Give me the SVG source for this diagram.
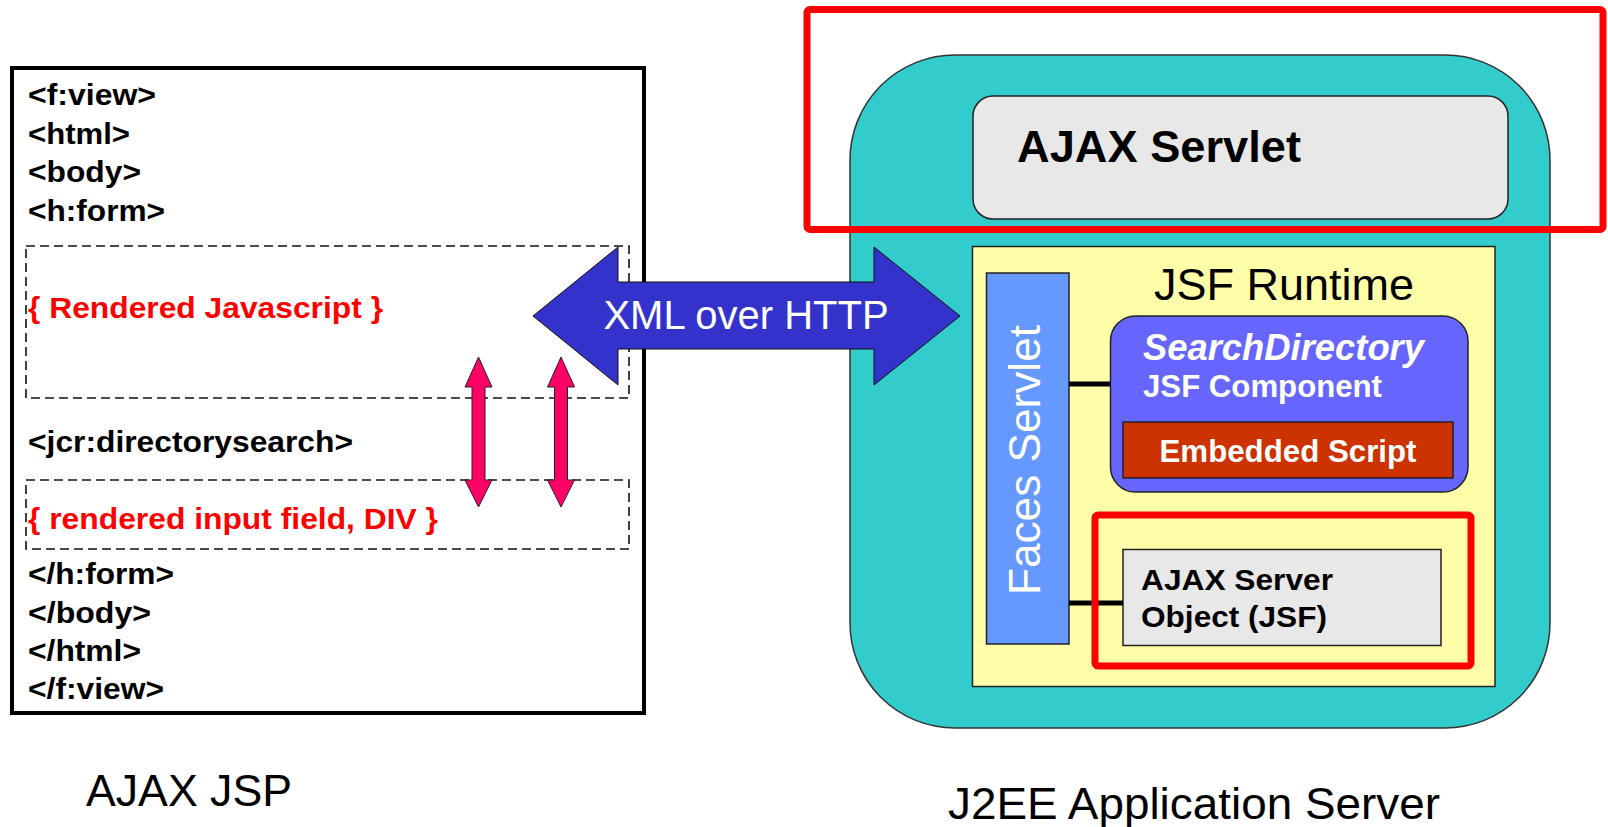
<svg xmlns="http://www.w3.org/2000/svg" width="1608" height="827" viewBox="0 0 1608 827">
  <style>
    .code { font-family: "Liberation Sans", Arial, sans-serif; font-weight: bold; font-size: 29px; fill: #000; }
    .render { font-family: "Liberation Sans", Arial, sans-serif; font-weight: bold; font-size: 29px; fill: #FF0000; }
    .label { font-family: "Liberation Sans", Arial, sans-serif; font-size: 44px; fill: #000; }
    .wlabel { font-family: "Liberation Sans", Arial, sans-serif; fill: #FFF; }
    .blabel { font-family: "Liberation Sans", Arial, sans-serif; font-weight: bold; fill: #000; }
    .dash { fill: none; stroke: #111; stroke-width: 1.6; stroke-dasharray: 9 5; }
    .edge { stroke: #222; stroke-width: 1.5; }
    .mark { fill: none; stroke: #FF0000; stroke-width: 7; }
    .pink { fill: #FF0066; stroke: #222; stroke-width: 1; }
    .link { stroke: #000; stroke-width: 5; }
  </style>

  <rect width="1608" height="827" fill="#FFFFFF"/>

  <!-- JSP page source -->
  <g id="ajax-jsp">
    <rect x="12" y="68" width="632" height="645" fill="#FFFFFF" stroke="#000" stroke-width="4"/>
    <text class="code" x="28" y="105" textLength="128" lengthAdjust="spacingAndGlyphs">&lt;f:view&gt;</text>
    <text class="code" x="28" y="143.5" textLength="102" lengthAdjust="spacingAndGlyphs">&lt;html&gt;</text>
    <text class="code" x="28" y="182" textLength="113" lengthAdjust="spacingAndGlyphs">&lt;body&gt;</text>
    <text class="code" x="28" y="220.5" textLength="137" lengthAdjust="spacingAndGlyphs">&lt;h:form&gt;</text>
    <rect class="dash" x="26" y="246" width="603" height="152"/>
    <text class="render" x="28" y="318" textLength="355" lengthAdjust="spacingAndGlyphs">{ Rendered Javascript }</text>
    <text class="code" x="28" y="452" textLength="325" lengthAdjust="spacingAndGlyphs">&lt;jcr:directorysearch&gt;</text>
    <rect class="dash" x="26" y="480" width="603" height="69"/>
    <text class="render" x="28" y="529" textLength="410" lengthAdjust="spacingAndGlyphs">{ rendered input field, DIV }</text>
    <text class="code" x="28" y="584" textLength="146" lengthAdjust="spacingAndGlyphs">&lt;/h:form&gt;</text>
    <text class="code" x="28" y="622.5" textLength="123" lengthAdjust="spacingAndGlyphs">&lt;/body&gt;</text>
    <text class="code" x="28" y="661" textLength="113" lengthAdjust="spacingAndGlyphs">&lt;/html&gt;</text>
    <text class="code" x="28" y="699" textLength="136" lengthAdjust="spacingAndGlyphs">&lt;/f:view&gt;</text>
  </g>
  <text id="label-jsp" class="label" x="86" y="806" textLength="206" lengthAdjust="spacingAndGlyphs">AJAX JSP</text>

  <!-- Application server -->
  <g id="app-server">
    <rect x="850" y="55" width="700" height="673" rx="105" ry="105" fill="#33CCCC" stroke="#333" stroke-width="1.5"/>
  </g>
  <text id="label-server" class="label" x="948" y="819" textLength="492" lengthAdjust="spacingAndGlyphs">J2EE Application Server</text>

  <g id="ajax-servlet">
    <rect x="973" y="96" width="535" height="123" rx="20" ry="20" fill="#E8E8E8" class="edge"/>
    <text class="blabel" x="1017" y="162" font-size="44" textLength="284" lengthAdjust="spacingAndGlyphs">AJAX Servlet</text>
  </g>

  <g id="jsf-runtime">
    <rect x="972.5" y="246.5" width="522.5" height="440" fill="#FFFFAA" class="edge"/>
    <text x="1154" y="300" font-family="Liberation Sans, Arial, sans-serif" font-size="45" fill="#000">JSF Runtime</text>
  </g>

  <g id="faces-servlet">
    <rect x="986.5" y="273" width="82.5" height="371" fill="#6699FF" class="edge"/>
    <text class="wlabel" font-size="44" transform="translate(1040 595) rotate(-90)" x="0" y="0" textLength="270" lengthAdjust="spacingAndGlyphs">Faces Servlet</text>
  </g>

  <g id="search-directory">
    <rect x="1110.5" y="316" width="357.5" height="176" rx="25" ry="25" fill="#6666FF" class="edge"/>
    <text class="wlabel" x="1143" y="360" font-size="37" font-style="italic" font-weight="bold" textLength="281" lengthAdjust="spacingAndGlyphs">SearchDirectory</text>
    <text class="wlabel" x="1143" y="397" font-size="31" font-weight="bold" textLength="239" lengthAdjust="spacingAndGlyphs">JSF Component</text>
  </g>

  <g id="embedded-script">
    <rect x="1123" y="422" width="330" height="56" fill="#CC3300" class="edge"/>
    <text class="wlabel" x="1288" y="462" font-size="31" font-weight="bold" text-anchor="middle" textLength="257" lengthAdjust="spacingAndGlyphs">Embedded Script</text>
  </g>

  <g id="ajax-server-object">
    <rect x="1123" y="549.5" width="318" height="96" fill="#E8E8E8" class="edge"/>
    <text class="blabel" x="1141" y="590" font-size="30" textLength="192" lengthAdjust="spacingAndGlyphs">AJAX Server</text>
    <text class="blabel" x="1141" y="627" font-size="30" textLength="186" lengthAdjust="spacingAndGlyphs">Object (JSF)</text>
  </g>

  <!-- Connectors -->
  <g id="connectors">
    <line class="link" x1="1069" y1="384" x2="1110.5" y2="384"/>
    <line class="link" x1="1069" y1="603" x2="1123" y2="603"/>
    <polygon class="pink" points="478.5,357 492,387 485,387 485,480 492,480 478.5,507 465,480 472,480 472,387 465,387"/>
    <polygon class="pink" points="561,357 574.5,387 567.5,387 567.5,480 574.5,480 561,507 547.5,480 554.5,480 554.5,387 547.5,387"/>
    <g id="xml-over-http">
      <polygon points="533,316 618,247 618,282 874,282 874,247 960,316 874,385 874,349 618,349 618,385" fill="#3333CC" stroke="#111" stroke-width="1"/>
      <text class="wlabel" x="746" y="329" font-size="40" text-anchor="middle">XML over HTTP</text>
    </g>
  </g>

  <!-- Highlight frames -->
  <g id="highlights">
    <rect class="mark" x="807" y="9.5" width="796" height="220" rx="3" ry="3"/>
    <rect class="mark" x="1095" y="515" width="376" height="151" rx="3" ry="3"/>
  </g>
</svg>
